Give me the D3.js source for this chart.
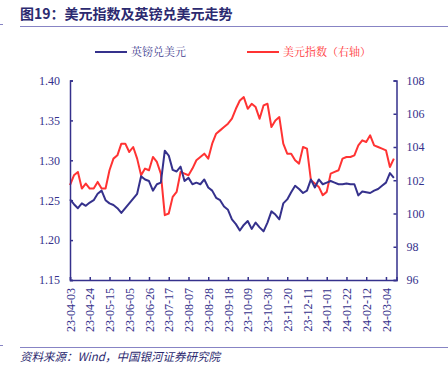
<!DOCTYPE html>
<html>
<head>
<meta charset="utf-8">
<script src="https://cdn.jsdelivr.net/npm/d3@7"></script>
<style>
  body { margin: 0; background: #fff; }
  svg { display: block; }
</style>
</head>
<body>
<script>
// tick labels, one every 15 trading days
var tickLabels = ['23-04-03', '23-04-24', '23-05-15', '23-06-05', '23-06-26', '23-07-17',
  '23-08-07', '23-08-28', '23-09-18', '23-10-09', '23-10-30', '23-11-20', '23-12-11',
  '24-01-01', '24-01-22', '24-02-12', '24-03-04'];

// values read every 3 trading days
var step = 3;
var gbpusd = [1.251, 1.245, 1.240, 1.246, 1.243, 1.247, 1.250, 1.258, 1.262, 1.250,
  1.246, 1.244, 1.240, 1.234, 1.240, 1.246, 1.252, 1.258, 1.280, 1.276,
  1.274, 1.262, 1.270, 1.272, 1.312, 1.306, 1.288, 1.286, 1.292, 1.274,
  1.278, 1.270, 1.272, 1.270, 1.276, 1.266, 1.262, 1.253, 1.250, 1.242,
  1.238, 1.226, 1.220, 1.212, 1.219, 1.224, 1.214, 1.222, 1.216, 1.211,
  1.222, 1.236, 1.232, 1.226, 1.246, 1.251, 1.260, 1.268, 1.264, 1.259,
  1.262, 1.276, 1.266, 1.276, 1.270, 1.272, 1.274, 1.272, 1.270, 1.270,
  1.271, 1.270, 1.270, 1.256, 1.261, 1.260, 1.259, 1.262, 1.264, 1.268,
  1.272, 1.284, 1.278];

var dxy = [101.7, 102.3, 102.5, 101.5, 101.8, 101.5, 101.5, 101.9, 101.5, 101.5,
  102.6, 103.3, 103.5, 104.2, 104.2, 103.7, 104.0, 103.3, 102.3, 102.7,
  102.6, 103.4, 103.1, 102.4, 99.9, 100.0, 101.0, 101.3, 102.5, 102.4,
  102.3, 102.7, 103.2, 103.4, 103.6, 103.3, 104.2, 104.8, 105.0, 105.2,
  105.4, 105.7, 106.3, 106.8, 107.0, 106.3, 106.6, 106.4, 105.7, 106.5,
  106.6, 105.2, 105.6, 105.8, 104.2, 103.6, 103.6, 103.2, 103.0, 104.0,
  103.9, 102.0, 101.8, 101.6, 101.1, 101.3, 102.4, 102.5, 102.6, 103.3,
  103.4, 103.4, 103.5, 104.1, 104.4, 104.3, 104.7, 104.1, 104.0, 103.9,
  103.8, 102.8, 103.3];

var leftTicks = [1.15, 1.20, 1.25, 1.30, 1.35, 1.40];
var rightTicks = [96, 98, 100, 102, 104, 106, 108];

var W = 448, H = 370;
var navy = '#35318c';
var red = '#ff3333';
var rule = '#8784c4';

var svg = d3.select('body').append('svg')
  .attr('width', W)
  .attr('height', H);

// title
svg.append('text')
  .attr('x', 20)
  .attr('y', 19)
  .attr('fill', '#2c2a70')
  .style('font-family', '"Noto Sans CJK SC", sans-serif')
  .style('font-weight', 'bold')
  .style('font-size', '14px')
  .text('图19：美元指数及英镑兑美元走势');

svg.append('line').attr('x1', 20).attr('x2', W).attr('y1', 26.5).attr('y2', 26.5)
  .attr('stroke', rule).attr('stroke-width', 1);
svg.append('line').attr('x1', 0).attr('x2', 3).attr('y1', 24.5).attr('y2', 24.5)
  .attr('stroke', rule).attr('stroke-width', 1);

// scales
var x = d3.scaleLinear().domain([0, 248]).range([70, 396.5]);
var yL = d3.scaleLinear().domain([1.15, 1.40]).range([280, 80.5]);
var yR = d3.scaleLinear().domain([96, 108]).range([280, 80.5]);

// lines
var lineL = d3.line()
  .x(function(d, i) { return x(i * step); })
  .y(function(d) { return yL(d); });
var lineR = d3.line()
  .x(function(d, i) { return x(i * step); })
  .y(function(d) { return yR(d); });

svg.append('path').datum(dxy)
  .attr('d', lineR)
  .attr('fill', 'none')
  .attr('stroke', red)
  .attr('stroke-width', 2)
  .attr('stroke-linejoin', 'round');

svg.append('path').datum(gbpusd)
  .attr('d', lineL)
  .attr('fill', 'none')
  .attr('stroke', navy)
  .attr('stroke-width', 2)
  .attr('stroke-linejoin', 'round');

// axes
var numFont = '"Liberation Serif", "Times New Roman", serif';

var axL = svg.append('g')
  .attr('transform', 'translate(70,0)')
  .call(d3.axisRight(yL).tickValues(leftTicks).tickSize(3).tickFormat(d3.format('.2f')));
axL.selectAll('text').attr('x', -10).attr('text-anchor', 'end');

var axR = svg.append('g')
  .attr('transform', 'translate(396.5,0)')
  .call(d3.axisLeft(yR).tickValues(rightTicks).tickSize(3).tickFormat(d3.format('d')));
axR.selectAll('text').attr('x', 10).attr('text-anchor', 'start');

var axB = svg.append('g')
  .attr('transform', 'translate(0,280)')
  .call(d3.axisTop(x).tickValues(d3.range(tickLabels.length).map(function(i) { return i * 15; }))
    .tickSize(3)
    .tickFormat(function(d, i) { return tickLabels[i]; }));
axB.selectAll('text')
  .attr('transform', 'rotate(-90)')
  .attr('x', -8)
  .attr('y', 0)
  .attr('dy', '0.35em')
  .attr('text-anchor', 'end');

[axL, axR, axB].forEach(function(ax) {
  ax.select('.domain').attr('stroke', navy).attr('stroke-width', 1.5);
  ax.selectAll('.tick line').attr('stroke', navy).attr('stroke-width', 1.5);
  ax.selectAll('text')
    .attr('fill', navy)
    .style('font-family', numFont)
    .style('font-size', '12px');
});

// legend
var legend = [
  { label: '英镑兑美元', color: navy, textColor: '#3c3a8e', x: 95 },
  { label: '美元指数（右轴）', color: red, textColor: red, x: 247 }
];
var lg = svg.selectAll('.legend').data(legend).enter().append('g')
  .attr('class', 'legend')
  .attr('transform', function(d) { return 'translate(' + d.x + ',52)'; });
lg.append('line')
  .attr('x1', 0).attr('x2', 32)
  .attr('stroke', function(d) { return d.color; })
  .attr('stroke-width', 2);
lg.append('text')
  .attr('x', 36)
  .attr('dy', '0.36em')
  .attr('fill', function(d) { return d.textColor; })
  .style('font-family', '"Noto Serif CJK SC", "Noto Sans CJK SC", serif')
  .style('font-size', '11px')
  .text(function(d) { return d.label; });

// footer
svg.append('line').attr('x1', 20).attr('x2', W).attr('y1', 347.5).attr('y2', 347.5)
  .attr('stroke', rule).attr('stroke-width', 1);
svg.append('line').attr('x1', 0).attr('x2', 3).attr('y1', 345.5).attr('y2', 345.5)
  .attr('stroke', rule).attr('stroke-width', 1);
svg.append('text')
  .attr('x', 20)
  .attr('y', 361)
  .attr('fill', '#2c2a70')
  .style('font-family', '"Noto Sans CJK SC", sans-serif')
  .style('font-style', 'italic')
  .style('font-size', '11.5px')
  .text('资料来源：Wind，中国银河证券研究院');
</script>
</body>
</html>
